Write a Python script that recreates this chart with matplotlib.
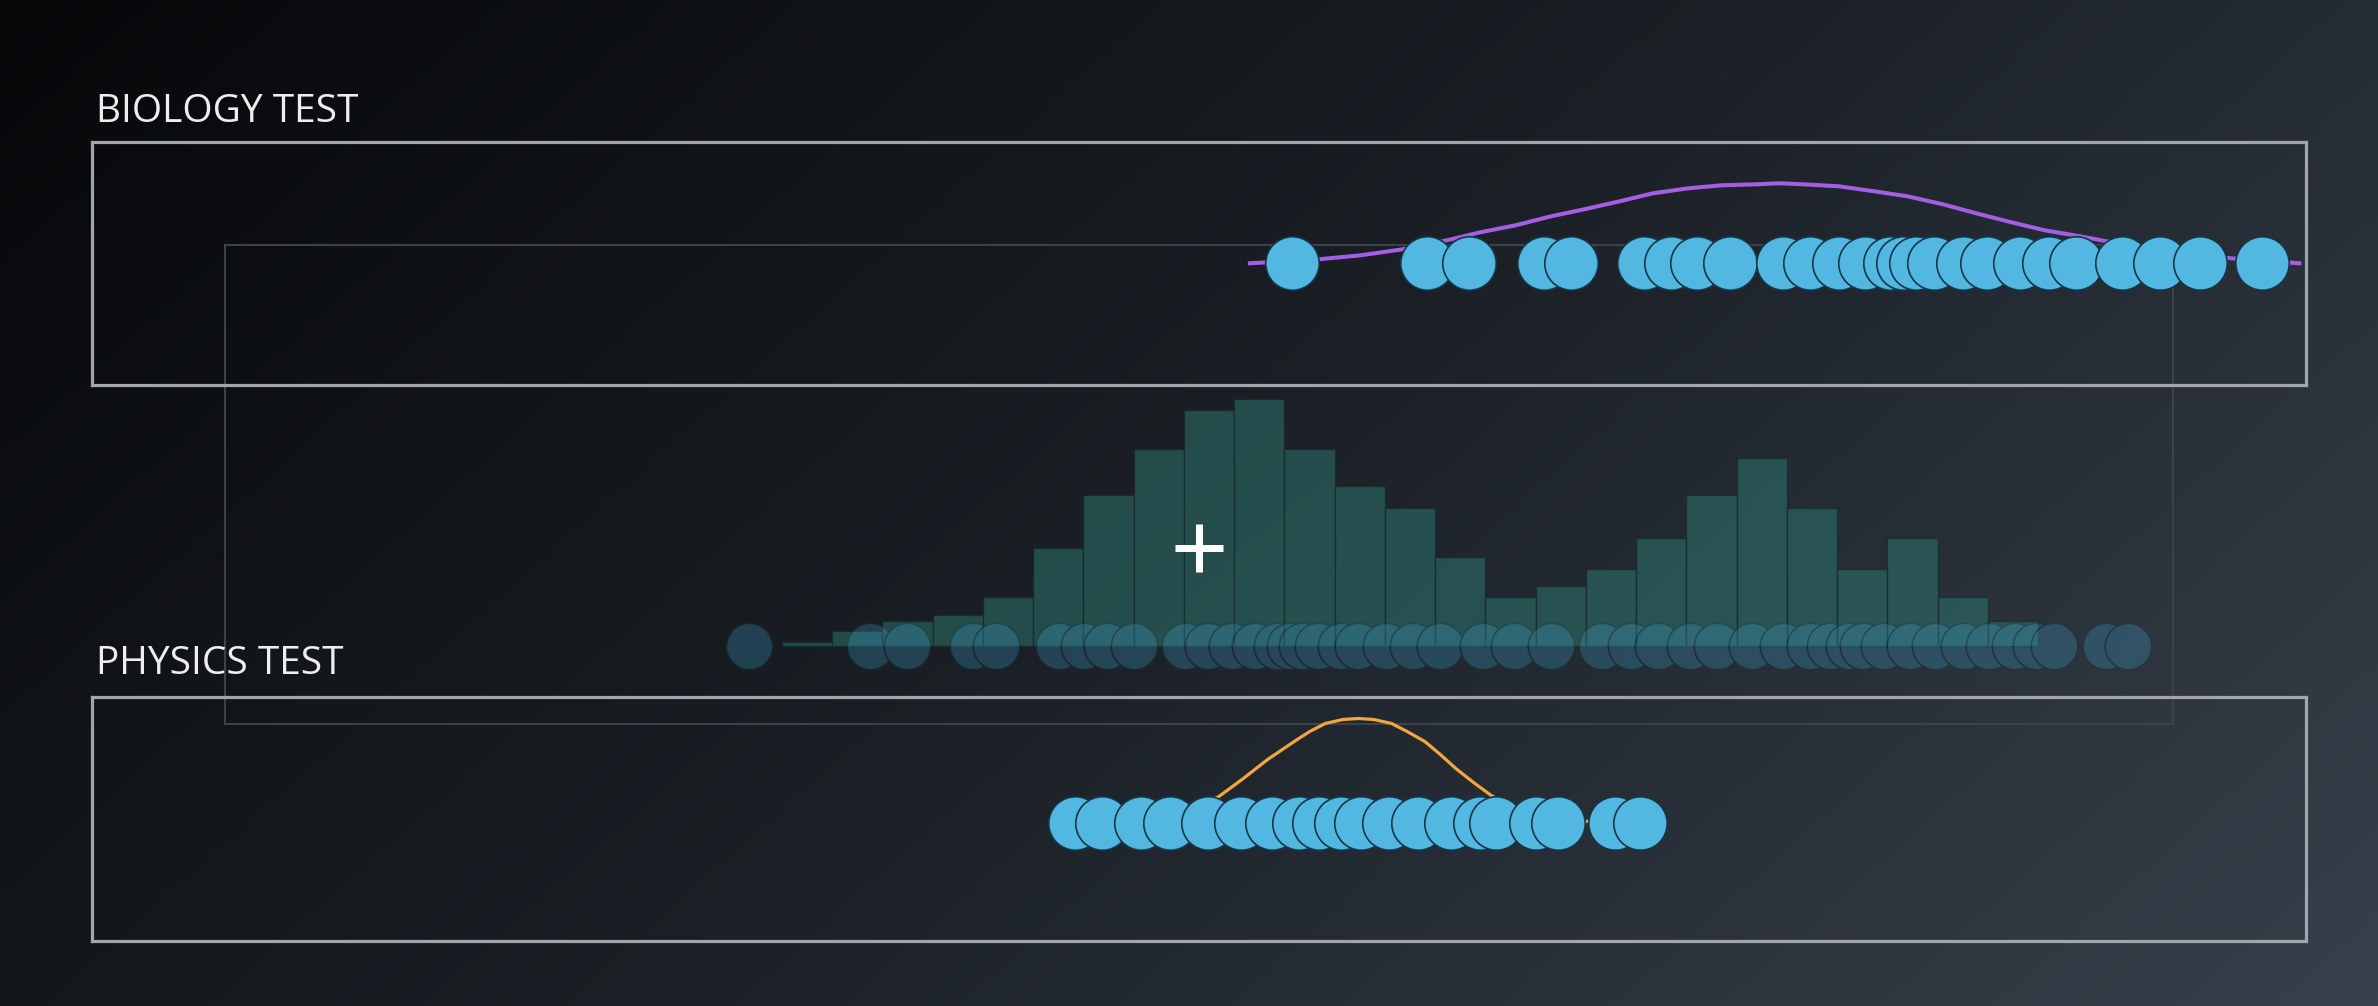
import numpy as np
import matplotlib
matplotlib.use("Agg")
import matplotlib.pyplot as plt
from matplotlib.colors import LinearSegmentedColormap

# scores, 0 = left edge of a panel frame, 100 = right edge
biology_scores = [54.2, 60.3, 62.2, 65.6, 66.8, 70.1, 71.3, 72.5, 74.0, 76.4,
                  77.6, 78.9, 80.1, 81.2, 81.8, 82.4, 83.2, 84.5, 85.6, 87.1,
                  88.4, 89.6, 91.7, 93.4, 95.2, 98.0]
physics_scores = [44.4, 45.6, 47.4, 48.7, 50.4, 51.9, 53.3, 54.5, 55.4, 56.4,
                  57.3, 58.6, 59.9, 61.4, 62.7, 63.4, 65.2, 66.2, 68.8, 69.9]

# density curves
bio_curve_x = [52.3, 55.4, 57.3, 59.2, 61.2, 62.7, 64.3, 65.9, 67.4, 69.0,
               70.5, 72.1, 73.6, 75.2, 76.2, 77.3, 78.9, 80.5, 82.0, 83.6,
               85.1, 86.7, 88.2, 89.8, 91.0, 93.9, 96.6, 99.7]
bio_curve_y = [0.00, 0.04, 0.08, 0.14, 0.23, 0.31, 0.38, 0.47, 0.54, 0.62,
               0.70, 0.75, 0.78, 0.79, 0.80, 0.79, 0.77, 0.72, 0.67, 0.59,
               0.50, 0.41, 0.33, 0.27, 0.22, 0.12, 0.05, 0.00]
phys_curve_x = [44.4, 47.0, 48.5, 49.8, 50.9, 52.0, 53.1, 54.3, 55.0, 55.7,
                56.5, 57.2, 57.9, 58.7, 59.4, 60.2, 60.9, 61.6, 62.4, 63.2,
                64.3, 65.5, 67.0, 69.9]
phys_curve_y = [0.00, 0.01, 0.05, 0.14, 0.26, 0.44, 0.63, 0.81, 0.91, 0.99,
                1.03, 1.04, 1.03, 0.99, 0.91, 0.81, 0.68, 0.54, 0.40, 0.27,
                0.14, 0.05, 0.015, 0.00]

# middle (dragged) panel: both tests together + histogram
combined_scores = [26.9, 33.1, 35.0, 38.4, 39.6, 42.8, 44.1, 45.3, 46.7, 49.3,
                   50.5, 51.7, 52.9, 54.0, 54.7, 55.3, 56.1, 57.3, 58.2, 59.6,
                   61.0, 62.4, 64.6, 66.2, 68.1, 70.7, 72.2, 73.6, 75.2, 76.6,
                   78.4, 80.0, 81.4, 82.4, 83.4, 84.1, 85.2, 86.5, 87.8, 89.3,
                   90.6, 91.9, 93.0, 93.9, 96.6, 97.7]
hist_range = (28.6, 93.1)
hist_heights = [0.3, 1.2, 2.0, 2.5, 4.0, 8.0, 12.3, 16.0, 19.2, 20.1,
                16.0, 13.0, 11.2, 7.2, 4.0, 4.9, 6.3, 8.8, 12.3, 15.3,
                11.2, 6.3, 8.8, 4.0, 2.0]
cursor = (50, 8)

W, H = 2378, 1006
fig = plt.figure(figsize=(W / 100, H / 100), dpi=100)


def rect(x0, y0, x1, y1):
    # pixel box (top-left origin) -> figure fraction
    return [x0 / W, 1 - y1 / H, (x1 - x0) / W, (y1 - y0) / H]


# background gradient
ax_bg = fig.add_axes([0, 0, 1, 1], zorder=-5)
gx, gy = np.meshgrid(np.linspace(0, 1, 400), np.linspace(0, 1, 200))
cmap = LinearSegmentedColormap.from_list("bg", ["#060709", "#1b2026", "#37404b"])
ax_bg.imshow(0.68 * gx + 0.32 * gy, cmap=cmap, vmin=0, vmax=1, aspect="auto",
             extent=[0, 1, 0, 1], origin="upper")
ax_bg.set_axis_off()

dot_face = "#52b8e2"
dot_edge = "#163546"


def frame(ax, color, lw):
    ax.set_facecolor("none")
    ax.set_xticks([])
    ax.set_yticks([])
    for s in ax.spines.values():
        s.set_color(color)
        s.set_linewidth(lw)


# middle panel
ax_mid = fig.add_axes(rect(225, 244.7, 2172.5, 724), zorder=1)
frame(ax_mid, "#3d4248", 1.5)
ax_mid.set_xlim(0, 100)
ax_mid.set_ylim(-6.34, 32.63)
edges = np.linspace(hist_range[0], hist_range[1], len(hist_heights) + 1)
ax_mid.bar(edges[:-1], hist_heights, width=np.diff(edges), align="edge",
           color=(0.18, 0.48, 0.45, 0.5), edgecolor=(0.08, 0.14, 0.15, 0.6),
           linewidth=1.0, zorder=2)


def fade(img, dpi):
    # whole-group transparency, overlaps do not add up
    img = img.copy()
    img[..., 3] *= 0.52
    return img, 0, 0


mid_dots = ax_mid.scatter(combined_scores, np.zeros(len(combined_scores)),
                          s=33.5 ** 2, color="#3fa9d6", edgecolors="#14394a",
                          linewidths=1.2, zorder=3, clip_on=False)
mid_dots.set_agg_filter(fade)
ax_mid.plot(*cursor, marker="+", ms=35, mew=5, color="white", zorder=5)

# biology panel
ax_top = fig.add_axes(rect(92, 141.7, 2306, 385), zorder=2)
frame(ax_top, "#a2a5a9", 2.3)
ax_top.set_xlim(0, 100)
ax_top.set_ylim(-1.217, 1.216)
ax_top.plot(bio_curve_x, bio_curve_y, color="#a45ee4", lw=2.9, zorder=2,
            solid_joinstyle="round")
ax_top.scatter(biology_scores, np.zeros(len(biology_scores)), s=38.5 ** 2,
               color=dot_face, edgecolors=dot_edge, linewidths=1.2, zorder=3)

# physics panel
ax_bot = fig.add_axes(rect(92, 696.7, 2306, 940.5), zorder=2)
frame(ax_bot, "#a2a5a9", 2.3)
ax_bot.set_xlim(0, 100)
ax_bot.set_ylim(-1.18, 1.258)
ax_bot.plot(phys_curve_x, phys_curve_y, color="#f2a640", lw=2.3, zorder=2,
            solid_joinstyle="round")
ax_bot.scatter(physics_scores, np.zeros(len(physics_scores)), s=38.5 ** 2,
               color=dot_face, edgecolors=dot_edge, linewidths=1.2, zorder=3)

# panel titles
fig.text(96 / W, 1 - 122 / H, "BIOLOGY TEST", family=["Open Sans", "DejaVu Sans"],
         fontsize=28, color="#eceef0", va="baseline", ha="left")
fig.text(96 / W, 1 - 674 / H, "PHYSICS TEST", family=["Open Sans", "DejaVu Sans"],
         fontsize=28, color="#eceef0", va="baseline", ha="left")

fig.savefig("out.png", dpi=100)
